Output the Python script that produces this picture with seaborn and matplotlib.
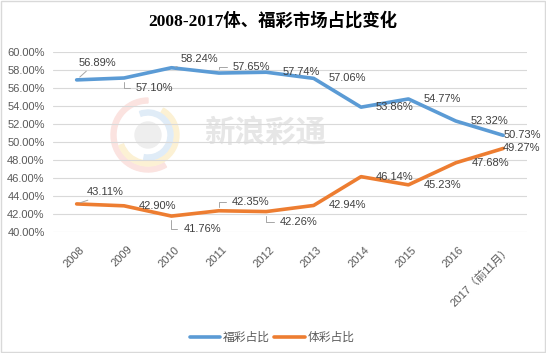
import matplotlib
matplotlib.use("Agg")
import matplotlib.pyplot as plt
import matplotlib.transforms as mtransforms
from matplotlib.patches import Rectangle, Wedge, Circle
import pandas as pd
import seaborn as sns

# chart data
years = ["2008", "2009", "2010", "2011", "2012", "2013", "2014", "2015", "2016", "2017（前11月）"]
welfare_share = [56.89, 57.10, 58.24, 57.65, 57.74, 57.06, 53.86, 54.77, 52.32, 50.73]
sports_share = [43.11, 42.90, 41.76, 42.35, 42.26, 42.94, 46.14, 45.23, 47.68, 49.27]
series_names = ["福彩占比", "体彩占比"]
title = "2008-2017体、福彩市场占比变化"
y_ticks = [40, 42, 44, 46, 48, 50, 52, 54, 56, 58, 60]

blue = "#5B9BD5"
orange = "#ED7D31"

sns.set_theme(style="white")
plt.rcParams["font.family"] = ["Liberation Sans", "Noto Sans CJK SC", "DejaVu Sans"]

df = pd.DataFrame({
    "year": years * 2,
    "share": welfare_share + sports_share,
    "series": [series_names[0]] * len(years) + [series_names[1]] * len(years),
})

fig = plt.figure(figsize=(5.46, 3.53), dpi=100)
ax = fig.add_axes([0.097, 0.343, 0.868, 0.510])
ax.set_facecolor("none")

sns.lineplot(data=df, x="year", y="share", hue="series", sort=False,
             palette=[blue, orange], linewidth=2.6, ax=ax, legend=True)

ax.set_ylim(40, 60)
ax.set_xlim(-0.5, len(years) - 0.5)
ax.set_yticks(y_ticks)
ax.set_yticklabels([f"{v:.2f}%" for v in y_ticks])
ax.yaxis.grid(True, color="#d9d9d9", linewidth=0.8)
ax.xaxis.grid(False)
for s in ax.spines.values():
    s.set_visible(False)
ax.set_xlabel("")
ax.set_ylabel("")
ax.tick_params(axis="y", labelsize=8, colors="#595959", length=0, pad=6)
ax.tick_params(axis="x", labelsize=8, colors="#595959", length=0, pad=9)
shift = mtransforms.ScaledTranslation(3 / 100, 0, fig.dpi_scale_trans)
for lab in ax.get_xticklabels():
    lab.set_rotation(45)
    lab.set_ha("right")
    lab.set_va("top")
    lab.set_rotation_mode("anchor")
    lab.set_transform(lab.get_transform() + shift)

# label offsets in pixels (dx, dy up) and leader style
blue_off = [(2, 17, "line"), (12, -10, "elbow"), (9, 9, "line"), (14, 6, "elbow"), (16, 0, None),
            (15, 0, None), (15, 0, None), (15, 0, None), (15, 0, None), (0, 0, None)]
orange_off = [(10, 12, "line"), (15, 0, None), (12, -13, "elbow"), (13, 9, "elbow"), (14, -10, "elbow"),
              (15, 0, None), (15, 0, None), (15, 0, None), (16, 0, None), (0, 0, None)]

for vals, offs in [(welfare_share, blue_off), (sports_share, orange_off)]:
    for i, (v, (dx, dy, kind)) in enumerate(zip(vals, offs)):
        ap = None
        if kind == "line":
            ap = dict(arrowstyle="-", color="#a6a6a6", lw=0.7, shrinkA=0, shrinkB=3,
                      relpos=(0.3, 0.0))
        elif kind == "elbow":
            ap = dict(arrowstyle="-", color="#a6a6a6", lw=0.7, shrinkA=2, shrinkB=3,
                      relpos=(0.0, 0.5), connectionstyle="angle,angleA=0,angleB=90,rad=0")
        ax.annotate(f"{v:.2f}%", xy=(i, v), xytext=(dx, dy), textcoords="offset pixels",
                    ha="left", va="center", fontsize=8, color="#404040",
                    arrowprops=ap, zorder=5)

leg = ax.legend(loc="center", bbox_to_anchor=(0.462, -0.59), ncol=2, frameon=False,
                fontsize=8.5, handlelength=2.6, columnspacing=0.4, handletextpad=0.2)
for t in leg.get_texts():
    t.set_color("#595959")

fig.text(0.5, 0.94, title, ha="center", va="center", fontsize=12.5, fontweight="bold",
         color="#000000", family=["Liberation Serif", "Noto Sans CJK SC"])

# faint watermark
wm = dict(transform=None, zorder=-5)
cx, cy = 148, 353 - 135
for r, th1, th2, c in [(37, 90, 300, "#fbe3e0"), (31, 200, 420, "#fcf1d4"), (25, 260, 470, "#e0ecf7")]:
    fig.patches.append(Wedge((cx, cy), r, th1, th2, width=5, color=c, **wm))
fig.patches.append(Circle((cx, cy), 13, color="#eeeeee", **wm))
fig.text(265 / 546, 1 - 133 / 353, "新浪彩通", ha="center", va="center", fontsize=22,
         fontweight="bold", color="#e6e6e6", zorder=-4, family=["Noto Sans CJK SC"])

fig.patches.append(Rectangle((0.001, 0.002), 0.997, 0.996, transform=fig.transFigure,
                             fill=False, edgecolor="#d9d9d9", linewidth=1))

fig.savefig("out.png", dpi=100)
